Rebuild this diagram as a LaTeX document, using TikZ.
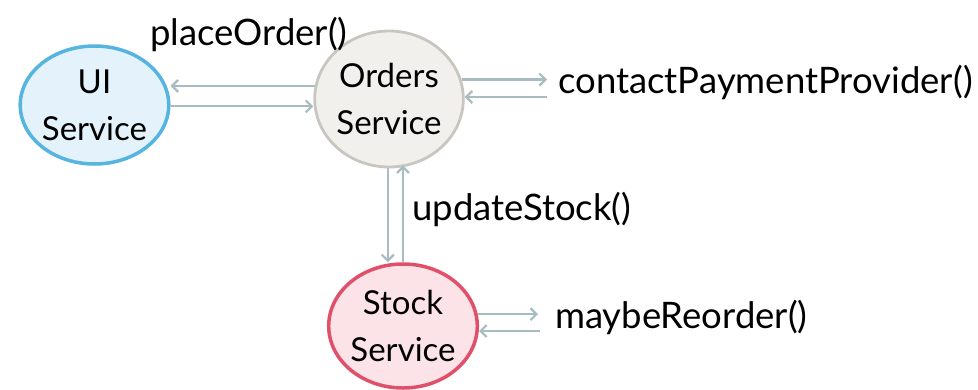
\documentclass[tikz,border=0pt]{standalone}
\usepackage{fontspec}
\setmainfont{Lato}
\usetikzlibrary{arrows.meta,shapes.geometric,calc}
\definecolor{uifill}{HTML}{E4F3FB}
\definecolor{uiedge}{HTML}{55B4E0}
\definecolor{ordfill}{HTML}{F1F0ED}
\definecolor{ordedge}{HTML}{C9C6C0}
\definecolor{stkfill}{HTML}{FCE3E7}
\definecolor{stkedge}{HTML}{E0506A}
\definecolor{arrcol}{HTML}{A9BCC2}
\tikzset{
  svc/.style={ellipse, inner sep=0pt, align=center, font=\fontsize{33}{47}\selectfont},
  arr/.style={draw=arrcol, line width=2.2pt, -{Straight Barb[length=6pt,width=12pt]}},
  lbl/.style={anchor=base west, inner sep=0pt, font=\fontsize{36.5}{42}\selectfont}
}
\begin{document}
\begin{tikzpicture}[x=1pt,y=-1pt]
\useasboundingbox (0,0) rectangle (978,389);
\fill[white] (0,0) rectangle (978,389);

\node[svc, fill=uifill, draw=uiedge, line width=3.5pt, minimum width=135pt, minimum height=118pt] (ui) at (94.5,105) {UI\\Service};
\node[svc, fill=ordfill, draw=ordedge, line width=2.8pt, minimum width=148pt, minimum height=136pt] (orders) at (389,99) {Orders\\Service};
\node[svc, fill=stkfill, draw=stkedge, line width=3.5pt, minimum width=130pt, minimum height=124pt] (stock) at (403,326) {Stock\\Service};

\node[lbl] (place) at (150,45) {placeOrder()};
\node[lbl] (contact) at (558,93) {contactPaymentProvider()};
\node[lbl] (update) at (412,220) {updateStock()};
\node[lbl] (reorder) at (555,328) {maybeReorder()};

\coordinate (cpA) at (547,80);
\coordinate (cpB) at (547,97);
\coordinate (mrA) at (538,316);
\coordinate (mrB) at (540,331);

% UI <-> Orders
\draw[arr] (orders.170.6) -- (orders.170.6 -| ui.east);
\draw[arr] (ui.-1) -- (ui.-1 -| orders.west);
% Orders <-> payment provider
\draw[arr] (orders.15) -- (orders.15 -| cpA);
\draw[arr] (cpB) -- (cpB -| orders.east);
% Orders <-> Stock
\draw[arr] (orders.269) -- (orders.269 |- stock.north);
\draw[arr] (stock.north) -- ([yshift=3pt]stock.north |- orders.south);
% Stock <-> reorder
\draw[arr] (stock.9) -- (stock.9 -| mrA);
\draw[arr] (mrB) -- (mrB -| stock.east);
\end{tikzpicture}
\end{document}
